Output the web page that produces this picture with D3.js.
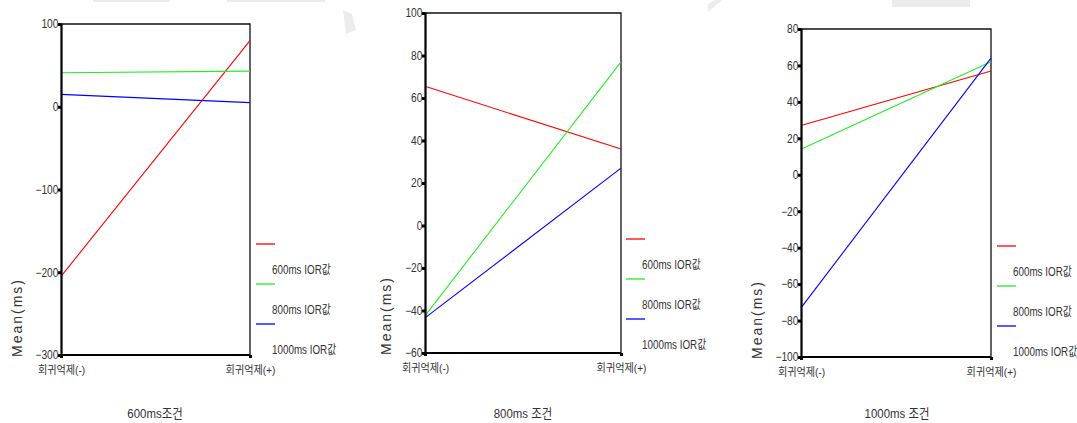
<!DOCTYPE html>
<html>
<head>
<meta charset="utf-8">
<script src="https://cdn.jsdelivr.net/npm/d3@7"></script>
<style>
  body { margin: 0; background: #fff; }
  svg { display: block; }
  text { font-family: "Liberation Sans", "Noto Sans CJK KR", sans-serif; fill: #333; }
</style>
</head>
<body>
<svg id="chart" width="1077" height="423"></svg>
<script>
// categories on the x axis
const conditions = ["회귀억제(-)", "회귀억제(+)"];
// series (legend) names
const seriesNames = ["600ms IOR값", "800ms IOR값", "1000ms IOR값"];
const seriesColors = ["#ff0000", "#22ee22", "#0000ff"];
const panelTitles = ["600ms조건", "800ms 조건", "1000ms 조건"];

// mean values per panel: one row per series, [cond(-), cond(+)]
const means600 = [[-205, 80], [41, 43], [15, 5]];
const means800 = [[65.5, 36], [-42.5, 77], [-43.5, 27]];
const means1000 = [[27, 57], [14, 62], [-73, 64]];

// y ticks per panel
const ticks600 = [100, 0, -100, -200, -300];
const ticks800 = [100, 80, 60, 40, 20, 0, -20, -40, -60];
const ticks1000 = [80, 60, 40, 20, 0, -20, -40, -60, -80, -100];

const svg = d3.select("#chart");

// faint scan marks along the top edge
const smudge = svg.append("g").attr("fill", "#ececec");
smudge.append("rect").attr("x", 93).attr("y", 0).attr("width", 77).attr("height", 2);
smudge.append("rect").attr("x", 227).attr("y", 0).attr("width", 98).attr("height", 2);
smudge.append("polygon").attr("points", "343,10 352,14 356,30 346,34");
smudge.append("polygon").attr("points", "708,12 722,0 715,0 708,4");
smudge.append("rect").attr("x", 892).attr("y", 0).attr("width", 78).attr("height", 7);

const panels = [
  { means: means600, ticks: ticks600, title: panelTitles[0],
    left: 61, right: 250, top: 24, bottom: 355, labelX: 22, legX: 256, legY: 244, titleX: 155 },
  { means: means800, ticks: ticks800, title: panelTitles[1],
    left: 425, right: 621, top: 13, bottom: 353, labelX: 391, legX: 626, legY: 239, titleX: 523 },
  { means: means1000, ticks: ticks1000, title: panelTitles[2],
    left: 801, right: 991, top: 29, bottom: 357, labelX: 762, legX: 997, legY: 246, titleX: 897 }
];

// narrow text, like the original's condensed font
function narrow(sel, x, y, sx) {
  return sel.attr("transform", `translate(${x},${y}) scale(${sx},1)`);
}

panels.forEach(function(p) {
  const g = svg.append("g");

  const x = d3.scalePoint().domain(conditions).range([p.left, p.right]);
  const y = d3.scaleLinear()
    .domain([d3.min(p.ticks), d3.max(p.ticks)])
    .range([p.bottom, p.top]);

  // top and right frame
  g.append("path")
    .attr("d", `M${p.left},${p.top}H${p.right}V${p.bottom}`)
    .attr("fill", "none")
    .attr("stroke", "#111")
    .attr("stroke-width", 1.3);

  // lines
  const line = d3.line()
    .x((d, i) => x(conditions[i]))
    .y(d => y(d));

  g.selectAll(".series")
    .data(p.means)
    .enter().append("path")
    .attr("class", "series")
    .attr("d", d => line(d))
    .attr("fill", "none")
    .attr("stroke", (d, i) => seriesColors[i])
    .attr("stroke-width", 1.1);

  // y axis
  const yAxis = g.append("g")
    .attr("transform", `translate(${p.left},0)`)
    .call(d3.axisLeft(y).tickValues(p.ticks).tickSize(3).tickPadding(0));
  yAxis.select(".domain").attr("stroke", "#000").attr("stroke-width", 2.2);
  yAxis.selectAll(".tick line").attr("stroke", "#000").attr("stroke-width", 3);
  yAxis.selectAll(".tick text")
    .style("font-size", "12px")
    .attr("transform", "scale(0.85,1)")
    .attr("fill", "#333");

  // x axis
  const xAxis = g.append("g")
    .attr("transform", `translate(0,${p.bottom})`)
    .call(d3.axisBottom(x).tickSize(3).tickPadding(8));
  xAxis.select(".domain").attr("d", `M${p.left},0H${p.right}`)
    .attr("stroke", "#000").attr("stroke-width", 2.2);
  xAxis.selectAll(".tick line").attr("stroke", "#000").attr("stroke-width", 3);
  xAxis.selectAll(".tick text")
    .style("font-size", "11px")
    .attr("transform", "scale(0.92,1)")
    .attr("fill", "#333");

  // y axis title
  g.append("text")
    .attr("transform", `translate(${p.labelX},${p.bottom + 2}) rotate(-90)`)
    .attr("text-anchor", "start")
    .style("font-size", "14px")
    .style("letter-spacing", "2px")
    .text("Mean(ms)");

  // panel title
  narrow(g.append("text"), p.titleX, 418, 0.88)
    .attr("text-anchor", "middle")
    .style("font-size", "13px")
    .text(p.title);

  // legend
  seriesNames.forEach(function(name, i) {
    const ly = p.legY + i * 40;
    g.append("line")
      .attr("x1", p.legX).attr("x2", p.legX + 19)
      .attr("y1", ly).attr("y2", ly)
      .attr("stroke", seriesColors[i])
      .attr("stroke-width", 1.3);
    narrow(g.append("text"), p.legX + 16, ly + 30, 0.82)
      .style("font-size", "12px")
      .text(name);
  });
});
</script>
</body>
</html>
